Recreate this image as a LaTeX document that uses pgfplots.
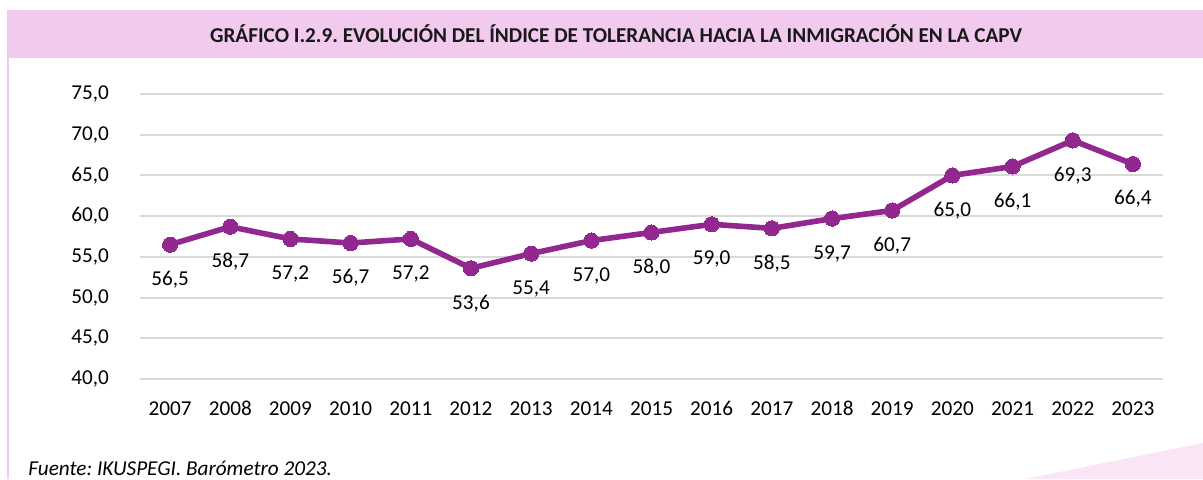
\documentclass[border=0pt]{standalone}
\usepackage{pgfplots}
\pgfplotsset{compat=1.18}
\usepackage{fontspec}
\setmainfont{Carlito}
\frenchspacing
\definecolor{linec}{HTML}{92278F}
\definecolor{band}{HTML}{F1CAEE}
\definecolor{wedge}{HTML}{F8E5F6}
\definecolor{gridc}{HTML}{D9D9D9}
\pgfplotstableread{
year val
2007 56.5
2008 58.7
2009 57.2
2010 56.7
2011 57.2
2012 53.6
2013 55.4
2014 57.0
2015 58.0
2016 59.0
2017 58.5
2018 59.7
2019 60.7
2020 65.0
2021 66.1
2022 69.3
2023 66.4
}\datatable
\begin{document}
\begin{tikzpicture}
\useasboundingbox (0pt,0pt) rectangle (601.5pt,239.5pt);
\fill[white] (0pt,0pt) rectangle (601.5pt,239.5pt);
\fill[band] (3.5pt,210.5pt) rectangle (601.5pt,234.5pt);
\draw[band,line width=1pt] (4pt,0pt) -- (4pt,210.5pt);
\fill[wedge] (512.5pt,0pt) -- (601.5pt,18pt) -- (601.5pt,0pt) -- cycle;
\node[font=\bfseries\fontsize{10.6pt}{12pt}\selectfont,text=black!90] at (308pt,222.5pt) {GRÁFICO I.2.9. EVOLUCIÓN DEL ÍNDICE DE TOLERANCIA HACIA LA INMIGRACIÓN EN LA CAPV};
\node[font=\itshape\fontsize{10.6pt}{12pt}\selectfont,anchor=west,inner sep=0pt] at (14pt,5.5pt) {Fuente: IKUSPEGI. Barómetro 2023.};
\begin{axis}[
  at={(70pt,50pt)}, anchor=south west,
  scale only axis, width=511.5pt, height=142.5pt,
  xmin=2006.5, xmax=2023.5, ymin=40, ymax=75,
  axis line style={draw=none},
  ytick={40,45,...,75},
  xtick=data,
  major tick length=0pt,
  ymajorgrids, grid style={gridc, line width=1pt},
  tick label style={font=\fontsize{10.6pt}{12pt}\selectfont, text=black},
  /pgf/number format/assume math mode=true,
  yticklabel style={/pgf/number format/.cd, fixed, fixed zerofill, precision=1, use comma},
  xticklabel style={text height=7.5pt, text depth=0pt, /pgf/number format/.cd, set thousands separator={}},
  yticklabel shift=12pt,
  xticklabel shift=7pt,
  clip=false,
]
\addplot[linec, line width=2.8pt, mark=*, mark size=3.8pt, mark options={fill=linec, draw=linec, line width=0pt},
  nodes near coords={\pgfmathprintnumber[fixed,fixed zerofill,precision=1,use comma,assume math mode=true]{\pgfplotspointmeta}},
  nodes near coords style={anchor=center, yshift=-17.5pt, font=\fontsize{10.6pt}{12pt}\selectfont, text=black}
] table[x=year,y=val] {\datatable};
\end{axis}
\end{tikzpicture}
\end{document}
